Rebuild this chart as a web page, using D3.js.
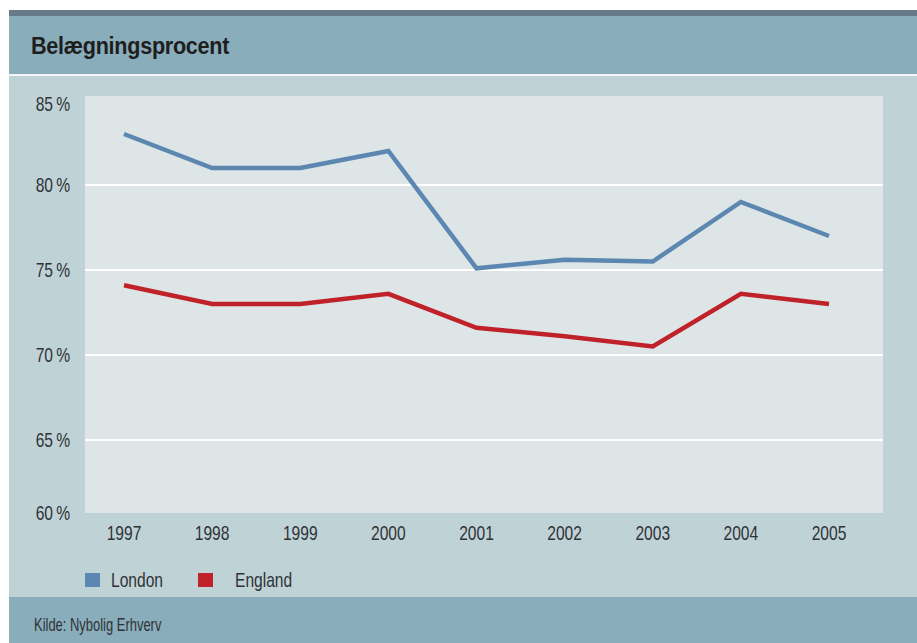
<!DOCTYPE html>
<html><head><meta charset="utf-8">
<script src="https://cdn.jsdelivr.net/npm/d3@7"></script>
<style>
html,body{margin:0;padding:0;background:#fff;}
svg{display:block;}
</style></head>
<body>
<svg id="c" width="917" height="643"></svg>
<script>
const years = ["1997","1998","1999","2000","2001","2002","2003","2004","2005"];
const london = [83, 81, 81, 82, 75.1, 75.6, 75.5, 79, 77];
const england = [74.1, 73, 73, 73.6, 71.6, 71.1, 70.5, 73.6, 73];
const yTicks = [60, 65, 70, 75, 80, 85];
const gridTicks = [65, 70, 75, 80];
const seriesNames = ["London", "England"];
const seriesColors = ["#5b87b0", "#c0222a"];
const title = "Belægningsprocent";
const source = "Kilde: Nybolig Erhverv";

const svg = d3.select("#c");
const W = 917, H = 643;
const font = "'Liberation Sans',Arial,sans-serif";
const SX = 0.78; // condensed look

function ctext(g, x, y, str, size, anchor, sx) {
  return g.append("text")
    .attr("transform", `translate(${x},${y}) scale(${sx},1)`)
    .attr("text-anchor", anchor || "start")
    .attr("font-family", font).attr("font-size", size)
    .attr("fill", "#2f3336").text(str);
}

// background frames
svg.append("rect").attr("x",9).attr("y",10).attr("width",W-9).attr("height",6).attr("fill","#68798a");
svg.append("rect").attr("x",9).attr("y",16).attr("width",W-9).attr("height",58).attr("fill","#89adbb");
svg.append("rect").attr("x",9).attr("y",74).attr("width",W-9).attr("height",2).attr("fill","#f2f6f7");
svg.append("rect").attr("x",9).attr("y",76).attr("width",W-9).attr("height",521).attr("fill","#bfd2d6");
svg.append("rect").attr("x",9).attr("y",597).attr("width",W-9).attr("height",H-597).attr("fill","#89adbb");

ctext(svg, 31, 54, title, 24, "start", 0.9)
  .attr("font-weight","bold").attr("fill","#1e1e1e").attr("letter-spacing","-0.3");

ctext(svg, 34, 631, source, 18, "start", 0.72);

const x = d3.scalePoint().domain(years).range([124, 829]);
const y = d3.scaleLinear().domain([60, 85]).range([525, 100]);

const plotL = 85, plotR = 883, plotT = y(85) - 4, plotB = y(60) - 12;
svg.append("rect").attr("x",plotL).attr("y",plotT).attr("width",plotR-plotL).attr("height",plotB-plotT).attr("fill","#dde5e7");

svg.append("g").selectAll("line").data(gridTicks).join("line")
  .attr("x1",plotL).attr("x2",plotR).attr("y1",d=>y(d)).attr("y2",d=>y(d))
  .attr("stroke","#ffffff").attr("stroke-width",2);

// y labels
const yLabelPos = d => d === 85 ? y(d) + 4 : d === 60 ? y(d) - 12 : y(d);
const gy = svg.append("g");
yTicks.forEach(d => ctext(gy, 70, yLabelPos(d) + 7, d + "\u2009%", 20, "end", SX));

// x labels
const gx = svg.append("g");
years.forEach(d => ctext(gx, x(d), 540, d, 20, "middle", SX));

const line = d3.line().x((d,i)=>x(years[i])).y(d=>y(d));
[london, england].forEach((s,k)=>{
  svg.append("path").datum(s).attr("d",line).attr("fill","none")
    .attr("stroke",seriesColors[k]).attr("stroke-width",4.5).attr("stroke-linejoin","miter");
});

// legend
const legX = [85, 198];
const gl = svg.append("g");
seriesNames.forEach((n,k)=>{
  gl.append("rect").attr("x",legX[k]).attr("y",573).attr("width",15).attr("height",14).attr("fill",seriesColors[k]);
  ctext(gl, legX[k] + (k===0?26:37), 587, n, 20, "start", SX);
});
</script>
</body></html>
